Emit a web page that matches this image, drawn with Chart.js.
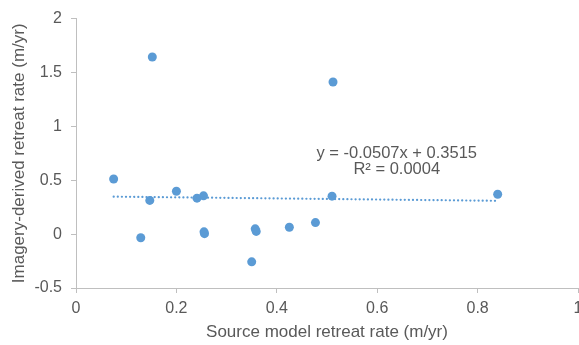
<!DOCTYPE html>
<html>
<head>
<meta charset="utf-8">
<script src="https://cdn.jsdelivr.net/npm/chart.js@4.4.1/dist/chart.umd.min.js"></script>
<style>
  html, body { margin: 0; padding: 0; background: #fff; overflow: hidden; }
  #wrap { width: 600px; height: 345px; }
</style>
</head>
<body>
<div id="wrap"><canvas id="chart" width="600" height="345"></canvas></div>
<script>
// Source model retreat rate vs imagery-derived retreat rate (m/yr)
const sourceRate = [0.152, 0.512, 0.075, 0.147, 0.200, 0.241, 0.254, 0.129, 0.255, 0.256,
  0.357, 0.359, 0.350, 0.425, 0.477, 0.510, 0.840];
const imageryRate = [1.644, 1.412, 0.512, 0.313, 0.398, 0.334, 0.355, -0.034, 0.021, 0.004,
  0.049, 0.025, -0.257, 0.064, 0.107, 0.352, 0.370];

// linear trendline, as reported on the chart
const trendCoef = [-0.0507, 0.3515];
const trendText = ['y = -0.0507x + 0.3515', 'R\u00b2 = 0.0004'];

const xTicks = [0, 0.2, 0.4, 0.6, 0.8, 1];
const xTickLabels = ['0', '0.2', '0.4', '0.6', '0.8', '1'];
const yTicks = [-0.5, 0, 0.5, 1, 1.5, 2];
const yTickLabels = ['-0.5', '0', '0.5', '1', '1.5', '2'];

const BLUE = '#5B9BD5';
const TEXT = '#595959';
const AXIS = '#BFBFBF';
const FONT = '"Liberation Sans", Arial, sans-serif';

const points = sourceRate.map((x, i) => ({ x: x, y: imageryRate[i] }));
const xMin = Math.min(...sourceRate);
const xMax = Math.max(...sourceRate);
const trend = [xMin, xMax].map((x) => ({ x: x, y: trendCoef[0] * x + trendCoef[1] }));

// equation label, anchored in data space
const equationLabel = {
  id: 'equationLabel',
  afterDatasetsDraw(chart) {
    const { ctx, scales } = chart;
    ctx.save();
    ctx.fillStyle = TEXT;
    ctx.font = '16.5px ' + FONT;
    ctx.textAlign = 'center';
    ctx.textBaseline = 'middle';
    ctx.fillText(trendText[0], scales.x.getPixelForValue(0.639), scales.y.getPixelForValue(0.75));
    ctx.fillText(trendText[1], scales.x.getPixelForValue(0.639), scales.y.getPixelForValue(0.60));
    ctx.restore();
  },
};

new Chart(document.getElementById('chart'), {
  type: 'scatter',
  data: {
    datasets: [
      {
        label: 'Trend',
        data: trend,
        showLine: true,
        borderColor: BLUE,
        borderWidth: 2.2,
        borderDash: [0.1, 4],
        borderCapStyle: 'round',
        pointRadius: 0,
        fill: false,
        order: 0,
      },
      {
        label: 'Retreat rate',
        data: points,
        backgroundColor: BLUE,
        borderColor: BLUE,
        pointRadius: 4.5,
        pointBorderWidth: 0,
        order: 1,
      },
    ],
  },
  options: {
    responsive: false,
    animation: false,
    devicePixelRatio: 1,
    layout: { padding: { left: 0, right: 22, top: 16, bottom: 0 } },
    plugins: {
      legend: { display: false },
      tooltip: { enabled: false },
    },
    scales: {
      x: {
        type: 'linear',
        min: 0,
        max: 1,
        afterFit: (scale) => { scale.height = 57; },
        afterBuildTicks: (scale) => { scale.ticks = xTicks.map((v) => ({ value: v })); },
        ticks: {
          color: TEXT,
          font: { family: FONT, size: 16 },
          padding: 6,
          maxRotation: 0,
          callback: (v) => xTickLabels[xTicks.indexOf(v)],
        },
        grid: { display: true, drawOnChartArea: false, tickLength: 5, color: AXIS },
        border: { color: AXIS, width: 1 },
        title: {
          display: true,
          text: 'Source model retreat rate (m/yr)',
          color: TEXT,
          font: { family: FONT, size: 17 },
          padding: { top: 0, bottom: 2 },
        },
      },
      y: {
        type: 'linear',
        min: -0.5,
        max: 2,
        afterFit: (scale) => { scale.width = 76; },
        afterBuildTicks: (scale) => { scale.ticks = yTicks.map((v) => ({ value: v })); },
        ticks: {
          color: TEXT,
          font: { family: FONT, size: 16 },
          padding: 9,
          callback: (v) => yTickLabels[yTicks.indexOf(v)],
        },
        grid: { display: true, drawOnChartArea: false, tickLength: 5, color: AXIS },
        border: { color: AXIS, width: 1 },
        title: {
          display: true,
          text: 'Imagery-derived retreat rate (m/yr)',
          color: TEXT,
          font: { family: FONT, size: 17 },
          padding: { top: 9, bottom: 0 },
        },
      },
    },
  },
  plugins: [equationLabel],
});
</script>
</body>
</html>
